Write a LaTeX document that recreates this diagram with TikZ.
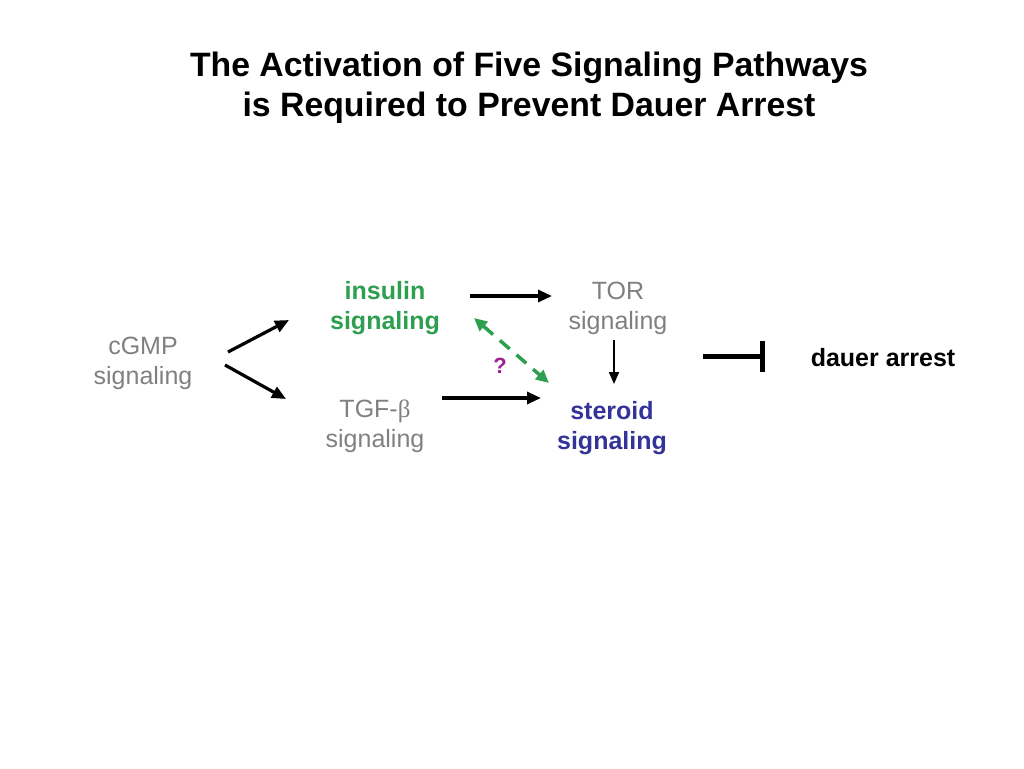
\documentclass[tikz,border=0pt]{standalone}
\usepackage{fontspec}
\setmainfont{Liberation Sans}
\newfontfamily\betafont{Liberation Serif}
\usetikzlibrary{arrows.meta,calc}
\definecolor{txtgray}{RGB}{128,128,128}
\definecolor{insgreen}{RGB}{46,158,79}
\definecolor{sterblue}{RGB}{51,51,153}
\definecolor{qpurple}{RGB}{160,32,143}
\tikzset{
  lbl/.style={inner sep=0pt, align=center, font=\fontsize{25}{30}\selectfont},
  graylbl/.style={lbl, text=txtgray},
  boldlbl/.style={lbl, font=\fontsize{25}{30}\selectfont\bfseries},
  arr/.style={line width=3.2pt, -{Triangle[length=14pt,width=12pt]}},
  thinarr/.style={line width=2pt, -{Triangle[length=12pt,width=10pt]}},
  dasharr/.style={line width=3.5pt, insgreen, dash pattern=on 13pt off 9pt, {Triangle[length=13pt,width=12pt]}-{Triangle[length=13pt,width=12pt]}},
  inhib/.style={line width=5pt, -{Bar[width=31pt,line width=5pt]}}
}
\begin{document}
\begin{tikzpicture}[x=1pt,y=-1pt]
\useasboundingbox (0,0) rectangle (1024,768);
\node[lbl, font=\fontsize{33.8}{40}\selectfont\bfseries] (title) at (529,88)
  {The Activation of Five Signaling Pathways\\is Required to Prevent Dauer Arrest};
\node[graylbl] (cgmp) at (143,363) {cGMP\\signaling};
\node[boldlbl, text=insgreen] (ins) at (385,308) {insulin\\signaling};
\node[graylbl] (tor) at (618,308) {TOR\\signaling};
\node[graylbl] (tgf) at (375,426) {TGF-{\betafont β}\\signaling};
\node[boldlbl, text=sterblue] (ster) at (612,428) {steroid\\signaling};
\node[boldlbl] (dauer) at (883,358) {dauer arrest};
\node[lbl, font=\fontsize{22}{24}\selectfont\bfseries, text=qpurple] (q) at (500,366) {?};

\draw[arr] ($(cgmp)+(85,-11)$) -- ($(ins)+(-96,12)$);
\draw[arr] ($(cgmp)+(82,2)$) -- ($(tgf)+(-89,-27)$);
\draw[arr] ($(ins)+(85,-12)$) -- ($(tor)+(-66,-12)$);
\draw[arr] ($(tgf)+(67,-28)$) -- ($(ster)+(-71,-30)$);
\draw[thinarr] ($(tor)+(-4,32)$) -- ($(tor)+(-4,76)$);
\draw[dasharr] ($(ins)+(89,10)$) -- ($(ster)+(-63,-45)$);
\draw[inhib] ($(dauer)+(-180,-2)$) -- ($(dauer)+(-118,-2)$);
\end{tikzpicture}
\end{document}
